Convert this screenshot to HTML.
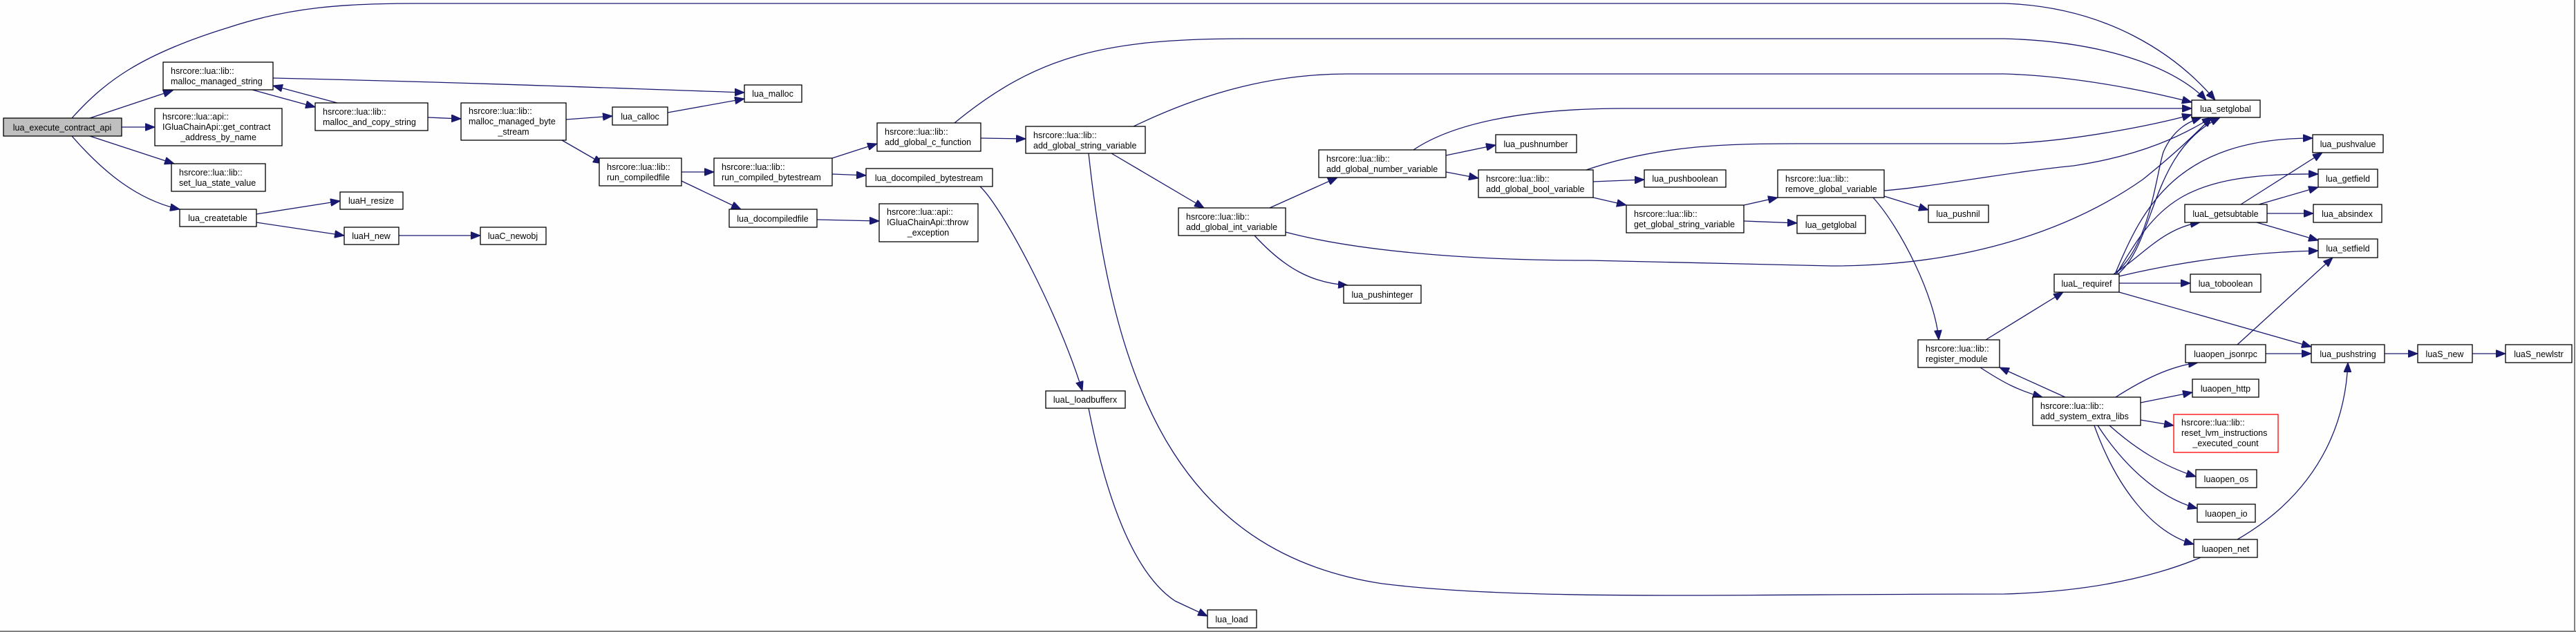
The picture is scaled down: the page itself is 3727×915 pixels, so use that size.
<!DOCTYPE html>
<html><head><meta charset="utf-8"><style>
html,body{margin:0;padding:0;background:#fdfefd;}
svg{display:block}
text{font-family:"Liberation Sans",sans-serif;font-size:12.5px;fill:#000}
.n{fill:#fff;stroke:#000;stroke-width:1.3}
.e{fill:none;stroke:#191970;stroke-width:1.3;marker-end:url(#a)}
</style></head><body>
<svg width="3727" height="915" viewBox="0 0 3727 915" xmlns="http://www.w3.org/2000/svg">
<defs><marker id="a" markerUnits="userSpaceOnUse" markerWidth="15" markerHeight="11" refX="14" refY="5.5" orient="auto"><path d="M0,0 L14,5.5 L0,11z" fill="#191970" stroke="#191970"/></marker></defs>
<line x1="3725" y1="0" x2="3725" y2="915" stroke="#808080" stroke-width="2"/>
<line x1="0" y1="914" x2="3727" y2="914" stroke="#808080" stroke-width="2"/>
<path class="e" d="M104,171 C150,120 200,80 330,40 C420,10 500,5 600,5 L2900,5 C3050,10 3150,80 3205,145"/>
<path class="e" d="M1381,178 C1500,80 1600,56 1800,56 L2900,56 C3050,60 3150,100 3192,145"/>
<path class="e" d="M1640,183 C1750,130 1850,107 1950,107 L2900,107 C3000,110 3100,130 3171,148"/>
<path class="e" d="M2045,217 C2100,180 2200,157 2350,157 L3171,157"/>
<path class="e" d="M2295,246 C2400,210 2500,208 2600,208 L2900,208 C3000,205 3120,180 3171,166"/>
<path class="e" d="M1860,336 C1950,360 2100,377 2300,377 L2650,385 C2850,385 3000,330 3100,260 C3150,220 3180,190 3200,170"/>
<path class="e" d="M2726,276 C2800,270 2900,250 3000,240 C3100,225 3160,195 3200,170"/>
<path class="e" d="M3058,397 C3110,360 3120,250 3130,220 C3145,185 3170,175 3185,170"/>
<path class="e" d="M3064,397 C3120,350 3110,220 3212,170"/>
<path class="e" d="M130,171 L250,131"/>
<path class="e" d="M176,184 L224,184"/>
<path class="e" d="M130,197 L252,237"/>
<path class="e" d="M104,197 C150,250 200,290 260,303"/>
<path class="e" d="M365,130 L456,155"/>
<path class="e" d="M488,149 L395,124"/>
<path class="e" d="M395,113 C700,120 900,128 1077,134"/>
<path class="e" d="M619,170 L667,172"/>
<path class="e" d="M819,173 L886,168"/>
<path class="e" d="M813,203 L872,237"/>
<path class="e" d="M966,163 L1077,143"/>
<path class="e" d="M371,310 L492,291"/>
<path class="e" d="M371,322 L498,341"/>
<path class="e" d="M577,341 L695,341"/>
<path class="e" d="M986,249 L1033,249"/>
<path class="e" d="M986,262 L1072,303"/>
<path class="e" d="M1204,229 L1269,208"/>
<path class="e" d="M1204,252 L1253,254"/>
<path class="e" d="M1182,318 L1272,320"/>
<path class="e" d="M1418,270 C1450,300 1530,450 1566,566"/>
<path class="e" d="M1575,591 C1600,720 1640,830 1700,870 L1747,892"/>
<path class="e" d="M1419,200 L1484,201"/>
<path class="e" d="M1608,222 L1742,301"/>
<path class="e" d="M1575,222 C1610,550 1700,800 2000,845 C2200,870 2500,860 2900,860 C3250,850 3390,700 3397,525"/>
<path class="e" d="M1837,301 L1935,257"/>
<path class="e" d="M1815,341 C1860,390 1900,410 1950,413"/>
<path class="e" d="M2092,225 L2164,210"/>
<path class="e" d="M2092,249 L2139,258"/>
<path class="e" d="M2305,263 L2379,260"/>
<path class="e" d="M2305,286 L2353,297"/>
<path class="e" d="M2523,297 L2572,286"/>
<path class="e" d="M2523,320 L2600,323"/>
<path class="e" d="M2726,284 L2790,304"/>
<path class="e" d="M2710,286 C2750,330 2800,430 2805,492"/>
<path class="e" d="M2873,492 L2985,423"/>
<path class="e" d="M2865,532 C2900,555 2920,565 2955,575"/>
<path class="e" d="M2988,575 L2893,532"/>
<path class="e" d="M3058,397 C3100,370 3130,330 3183,322"/>
<path class="e" d="M3060,397 C3100,300 3150,200 3346,200"/>
<path class="e" d="M3062,397 C3120,300 3150,250 3354,252"/>
<path class="e" d="M3066,400 C3150,380 3250,365 3354,363"/>
<path class="e" d="M3066,410 L3169,410"/>
<path class="e" d="M3066,423 L3344,502"/>
<path class="e" d="M3242,296 L3360,221"/>
<path class="e" d="M3268,296 L3354,271"/>
<path class="e" d="M3280,309 L3347,309"/>
<path class="e" d="M3265,322 L3354,348"/>
<path class="e" d="M3237,499 L3375,373"/>
<path class="e" d="M3278,512 L3344,512"/>
<path class="e" d="M3450,512 L3498,512"/>
<path class="e" d="M3577,512 L3625,512"/>
<path class="e" d="M3061,575 C3100,550 3140,530 3180,525"/>
<path class="e" d="M3097,583 L3172,568"/>
<path class="e" d="M3097,608 L3145,616"/>
<path class="e" d="M3052,616 C3090,650 3130,675 3177,690"/>
<path class="e" d="M3035,616 C3070,670 3120,720 3179,736"/>
<path class="e" d="M3030,616 C3060,700 3110,770 3174,788"/>
<rect x="5" y="171" width="171" height="26" fill="#bfbfbf" stroke="#000" stroke-width="1.3"/><text x="90" y="189" text-anchor="middle">lua_execute_contract_api</text>
<rect class="n" x="236" y="90" width="159" height="40"/><text x="247" y="107">hsrcore::lua::lib::</text><text x="247" y="122">malloc_managed_string</text>
<rect class="n" x="224" y="157" width="184" height="54"/><text x="235" y="173">hsrcore::lua::api::</text><text x="235" y="188">IGluaChainApi::get_contract</text><text x="316" y="203" text-anchor="middle">_address_by_name</text>
<rect class="n" x="248" y="237" width="136" height="40"/><text x="259" y="254">hsrcore::lua::lib::</text><text x="259" y="269">set_lua_state_value</text>
<rect class="n" x="260" y="303" width="111" height="25"/><text x="315" y="320" text-anchor="middle">lua_createtable</text>
<rect class="n" x="456" y="149" width="163" height="40"/><text x="467" y="166">hsrcore::lua::lib::</text><text x="467" y="181">malloc_and_copy_string</text>
<rect class="n" x="667" y="149" width="152" height="54"/><text x="678" y="165">hsrcore::lua::lib::</text><text x="678" y="180">malloc_managed_byte</text><text x="743" y="195" text-anchor="middle">_stream</text>
<rect class="n" x="886" y="155" width="80" height="26"/><text x="926" y="173" text-anchor="middle">lua_calloc</text>
<rect class="n" x="1077" y="123" width="83" height="25"/><text x="1118" y="140" text-anchor="middle">lua_malloc</text>
<rect class="n" x="867" y="229" width="119" height="40"/><text x="878" y="246">hsrcore::lua::lib::</text><text x="878" y="261">run_compiledfile</text>
<rect class="n" x="492" y="278" width="91" height="25"/><text x="537" y="295" text-anchor="middle">luaH_resize</text>
<rect class="n" x="498" y="329" width="79" height="25"/><text x="537" y="346" text-anchor="middle">luaH_new</text>
<rect class="n" x="695" y="329" width="95" height="25"/><text x="742" y="346" text-anchor="middle">luaC_newobj</text>
<rect class="n" x="1033" y="229" width="171" height="40"/><text x="1044" y="246">hsrcore::lua::lib::</text><text x="1044" y="261">run_compiled_bytestream</text>
<rect class="n" x="1253" y="244" width="183" height="26"/><text x="1344" y="262" text-anchor="middle">lua_docompiled_bytestream</text>
<rect class="n" x="1055" y="303" width="127" height="26"/><text x="1118" y="321" text-anchor="middle">lua_docompiledfile</text>
<rect class="n" x="1272" y="295" width="143" height="55"/><text x="1283" y="311">hsrcore::lua::api::</text><text x="1283" y="326">IGluaChainApi::throw</text><text x="1343" y="341" text-anchor="middle">_exception</text>
<rect class="n" x="1269" y="178" width="150" height="41"/><text x="1280" y="195">hsrcore::lua::lib::</text><text x="1280" y="210">add_global_c_function</text>
<rect class="n" x="1484" y="183" width="173" height="39"/><text x="1495" y="200">hsrcore::lua::lib::</text><text x="1495" y="215">add_global_string_variable</text>
<rect class="n" x="1705" y="301" width="155" height="40"/><text x="1716" y="318">hsrcore::lua::lib::</text><text x="1716" y="333">add_global_int_variable</text>
<rect class="n" x="1908" y="217" width="184" height="40"/><text x="1919" y="234">hsrcore::lua::lib::</text><text x="1919" y="249">add_global_number_variable</text>
<rect class="n" x="1944" y="413" width="112" height="26"/><text x="2000" y="431" text-anchor="middle">lua_pushinteger</text>
<rect class="n" x="2164" y="195" width="117" height="26"/><text x="2222" y="213" text-anchor="middle">lua_pushnumber</text>
<rect class="n" x="2139" y="246" width="166" height="40"/><text x="2150" y="263">hsrcore::lua::lib::</text><text x="2150" y="278">add_global_bool_variable</text>
<rect class="n" x="2379" y="246" width="118" height="25"/><text x="2438" y="263" text-anchor="middle">lua_pushboolean</text>
<rect class="n" x="2353" y="297" width="170" height="40"/><text x="2364" y="314">hsrcore::lua::lib::</text><text x="2364" y="329">get_global_string_variable</text>
<rect class="n" x="2600" y="312" width="99" height="26"/><text x="2649" y="330" text-anchor="middle">lua_getglobal</text>
<rect class="n" x="2572" y="246" width="154" height="40"/><text x="2583" y="263">hsrcore::lua::lib::</text><text x="2583" y="278">remove_global_variable</text>
<rect class="n" x="2790" y="297" width="87" height="25"/><text x="2833" y="314" text-anchor="middle">lua_pushnil</text>
<rect class="n" x="3171" y="145" width="99" height="25"/><text x="3220" y="162" text-anchor="middle">lua_setglobal</text>
<rect class="n" x="3346" y="195" width="102" height="26"/><text x="3397" y="213" text-anchor="middle">lua_pushvalue</text>
<rect class="n" x="3354" y="245" width="86" height="26"/><text x="3397" y="263" text-anchor="middle">lua_getfield</text>
<rect class="n" x="3161" y="296" width="119" height="26"/><text x="3220" y="314" text-anchor="middle">luaL_getsubtable</text>
<rect class="n" x="3347" y="296" width="99" height="26"/><text x="3396" y="314" text-anchor="middle">lua_absindex</text>
<rect class="n" x="3354" y="346" width="86" height="27"/><text x="3397" y="364" text-anchor="middle">lua_setfield</text>
<rect class="n" x="2972" y="397" width="94" height="26"/><text x="3019" y="415" text-anchor="middle">luaL_requiref</text>
<rect class="n" x="3169" y="397" width="102" height="26"/><text x="3220" y="415" text-anchor="middle">lua_toboolean</text>
<rect class="n" x="2775" y="492" width="118" height="40"/><text x="2786" y="509">hsrcore::lua::lib::</text><text x="2786" y="524">register_module</text>
<rect class="n" x="3162" y="499" width="116" height="26"/><text x="3220" y="517" text-anchor="middle">luaopen_jsonrpc</text>
<rect class="n" x="3344" y="499" width="106" height="26"/><text x="3397" y="517" text-anchor="middle">lua_pushstring</text>
<rect class="n" x="3498" y="499" width="79" height="26"/><text x="3537" y="517" text-anchor="middle">luaS_new</text>
<rect class="n" x="3625" y="499" width="96" height="26"/><text x="3673" y="517" text-anchor="middle">luaS_newlstr</text>
<rect class="n" x="2941" y="575" width="156" height="41"/><text x="2952" y="592">hsrcore::lua::lib::</text><text x="2952" y="607">add_system_extra_libs</text>
<rect class="n" x="3172" y="549" width="96" height="26"/><text x="3220" y="567" text-anchor="middle">luaopen_http</text>
<rect x="3145" y="600" width="151" height="55" fill="#fff" stroke="#ff0000" stroke-width="1.3"/><text x="3156" y="616">hsrcore::lua::lib::</text><text x="3156" y="631">reset_lvm_instructions</text><text x="3220" y="646" text-anchor="middle">_executed_count</text>
<rect class="n" x="3177" y="680" width="88" height="26"/><text x="3221" y="698" text-anchor="middle">luaopen_os</text>
<rect class="n" x="3179" y="730" width="84" height="26"/><text x="3221" y="748" text-anchor="middle">luaopen_io</text>
<rect class="n" x="3174" y="781" width="92" height="26"/><text x="3220" y="799" text-anchor="middle">luaopen_net</text>
<rect class="n" x="1513" y="566" width="115" height="25"/><text x="1570" y="583" text-anchor="middle">luaL_loadbufferx</text>
<rect class="n" x="1747" y="883" width="71" height="26"/><text x="1782" y="901" text-anchor="middle">lua_load</text>
</svg>
</body></html>
